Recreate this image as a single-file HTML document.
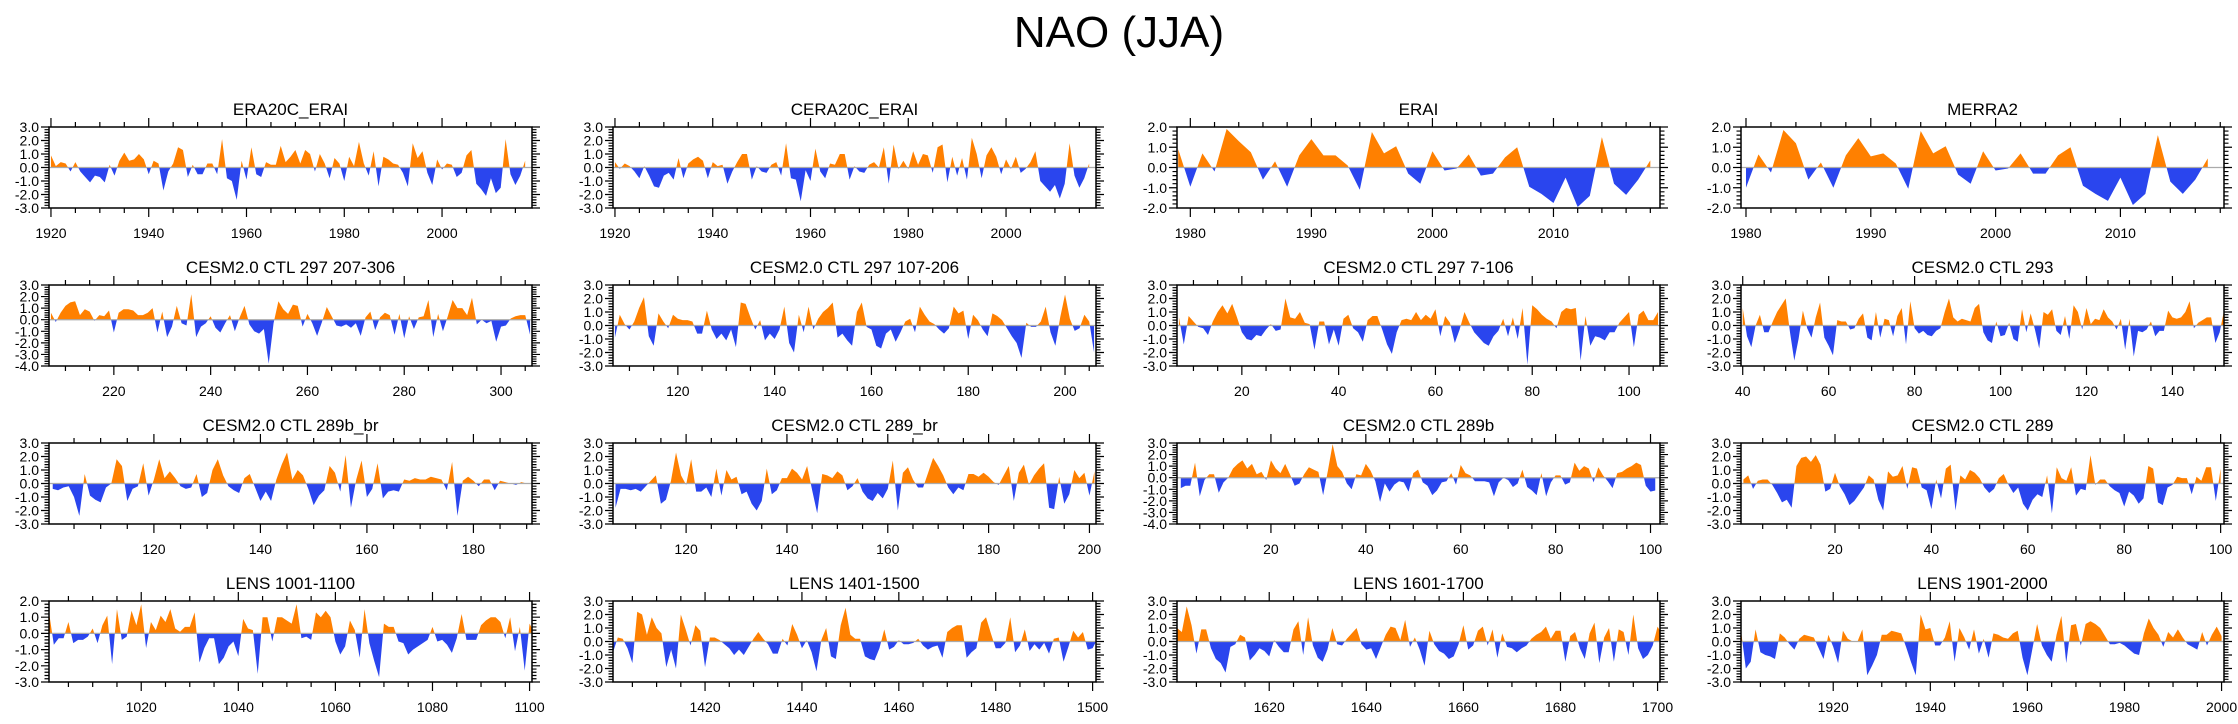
<!DOCTYPE html>
<html><head><meta charset="utf-8"><style>
body{margin:0;background:#fff;}
svg text{font-family:"Liberation Sans",sans-serif;fill:#000;}
</style></head><body>
<svg id="chart" width="2238" height="719" viewBox="0 0 2238 719" xmlns="http://www.w3.org/2000/svg">
<text x="1119" y="47" font-size="44" text-anchor="middle">NAO (JJA)</text>
</svg>
<script>
const titles = ["ERA20C_ERAI","CERA20C_ERAI","ERAI","MERRA2",
"CESM2.0 CTL 297 207-306","CESM2.0 CTL 297 107-206","CESM2.0 CTL 297 7-106","CESM2.0 CTL 293",
"CESM2.0 CTL 289b_br","CESM2.0 CTL 289_br","CESM2.0 CTL 289b","CESM2.0 CTL 289",
"LENS 1001-1100","LENS 1401-1500","LENS 1601-1700","LENS 1901-2000"];
const startYears = [1920,1920,1979,1980, 207,107,7,40, 101,106,1,1, 1001,1401,1601,1901];
const xDomains = [[1919.6,2018.4],[1919.6,2018.4],[1978.9,2018.8],[1979.6,2018.3],
[206.6,306.4],[106.6,206.4],[6.6,106.4],[39.6,152],
[100.3,191],[105.5,201.3],[0.2,102],[0.5,100.7],
[1001,1100.5],[1401,1500.7],[1601,1700.5],[1901,2000.5]];
const yDomains = [[-3,3],[-3,3],[-2,2],[-2,2],[-4,3],[-3,3],[-3,3],[-3,3],[-3,3],[-3,3],[-4,3],[-3,3],[-3,2],[-3,3],[-3,3],[-3,3]];
const xMajor = [20,20,10,10,20,20,20,20,20,20,20,20,20,20,20,20];
const xMinor = [5,5,2,2,5,5,5,5,5,5,5,5,5,5,5,5];

const sEra20c = [0.9,0.1,0.4,0.3,-0.3,0.4,-0.3,-0.7,-1.1,-0.6,-0.7,-1.1,0.2,-0.6,0.5,1.1,0.5,0.6,1.0,0.6,-0.5,0.5,0.3,-1.7,-0.3,0.3,1.5,1.3,-0.7,0.2,-0.5,-0.5,0.3,0.3,-0.5,2.1,-0.8,-1.0,-2.4,0.5,-0.9,1.5,-0.5,-0.7,0.4,0.2,0.2,1.6,0.4,0.8,1.3,0.3,1.3,1.0,-0.3,1.0,0.3,-0.8,0.7,0.3,-1.0,0.8,0.1,1.9,0.3,-0.6,1.2,-1.4,0.8,0.6,0.3,0.2,-0.4,-1.4,1.8,0.7,1.2,-0.4,-1.3,0.6,-0.15,0.3,0.2,-0.7,-0.4,0.9,1.3,-1.2,-1.6,-2.1,-0.8,-1.9,-1.5,2.1,-0.5,-1.3,-0.6,0.5];
const sCera20c = [0.4,-0.1,0.3,0.1,-0.3,-0.8,0.1,-0.6,-1.4,-1.5,-0.6,-0.4,-0.9,0.7,-0.8,0.3,0.6,0.8,0.5,-0.8,0.4,0.1,0.2,-1.2,-0.3,0.4,1.0,1.0,-0.9,0.1,-0.3,-0.4,0.2,0.4,-0.6,1.8,-0.8,-0.9,-2.5,-0.2,-1.0,1.4,-0.3,-0.8,0.3,0.2,1.0,1.0,-0.9,0.1,-0.3,-0.4,0.2,0.4,0.0,1.5,-1.2,1.7,-0.1,0.5,-0.1,1.2,0.2,1.0,0.9,-0.4,1.5,1.7,-1.1,0.8,-0.6,0.7,-0.9,2.2,1.0,-0.8,0.9,1.5,0.8,-0.5,0.6,-0.1,0.8,-0.4,-0.1,0.4,1.2,-1.0,-1.4,-1.8,-1.3,-2.3,-1.2,1.8,-0.6,-1.5,-0.8,0.3];
const sErai = [0.9,-0.95,0.7,-0.2,1.9,1.3,0.75,-0.6,0.3,-0.95,0.6,1.4,0.6,0.6,0.1,-1.1,1.75,0.7,1.05,-0.3,-0.8,0.8,-0.15,-0.05,0.65,-0.4,-0.3,0.5,1.0,-0.95,-1.3,-1.75,-0.5,-1.95,-1.4,1.5,-0.8,-1.35,-0.6,0.35];
const sMerra2 = [-1.0,0.65,-0.25,1.85,1.2,-0.6,0.25,-1.0,0.6,1.45,0.55,0.7,0.2,-1.05,1.8,0.7,1.05,-0.35,-0.8,0.8,-0.15,-0.05,0.7,-0.3,-0.3,0.6,1.0,-0.9,-1.3,-1.65,-0.5,-1.85,-1.3,1.6,-0.7,-1.3,-0.6,0.45];
const sCtl297a = [0.6,-0.2,0.6,1.2,1.5,1.6,0.4,0.9,0.7,-0.1,0.4,0.3,0.8,-1.1,0.6,0.9,0.9,0.8,0.4,0.4,0.6,1.0,-1.1,0.7,-1.5,-0.6,1.2,-0.3,-0.5,2.2,-1.5,-0.6,-0.3,0.3,-0.7,-1.1,-0.3,0.4,-1.0,0.2,1.2,-0.4,-1.0,-1.2,-0.8,-3.8,-0.3,1.6,0.9,0.5,1.3,1.2,-0.6,0.5,-0.3,-1.4,-0.2,1.1,0.3,-0.5,-0.6,-0.4,-0.7,-0.3,-1.4,0.2,0.7,-0.9,0.2,0.6,0.4,-1.3,0.5,-1.6,0.3,-0.8,0.2,0.3,1.7,-1.5,0.5,-1.0,0.3,1.7,1.0,1.0,0.4,1.9,-0.4,0.0,-0.3,-0.1,-1.9,-0.6,-0.5,0.1,0.3,0.4,0.4,-1.3];
const sCtl297b = [-0.9,0.8,0.1,-0.3,0.3,1.3,2.1,-0.8,-1.5,0.9,0.3,-0.2,0.8,0.5,0.4,0.4,0.3,-0.6,-0.6,1.1,-0.3,-1.0,-0.6,-1.1,-0.3,-1.6,1.7,1.6,0.6,-0.3,0.4,-1.1,-0.6,-1.0,-0.3,1.4,-1.3,-2.0,0.8,-0.5,1.4,-0.3,0.5,1.0,1.3,1.7,-0.9,-0.6,-1.1,-1.5,1.0,1.7,-0.1,-0.3,-1.5,-1.7,-0.6,-0.3,-1.2,-0.5,0.3,0.5,-0.5,1.4,0.8,0.3,0.1,-0.3,-0.6,-0.2,1.4,0.9,1.1,-1.0,0.8,0.4,-0.3,-0.8,0.9,0.7,0.4,-0.2,-0.8,-1.3,-2.4,0.2,-0.1,-0.1,0.3,1.4,-0.5,-1.5,0.6,2.3,0.5,-0.4,-0.2,0.8,0.3,-2.0];
const sCtl297c = [0.6,-1.4,0.7,0.3,-0.1,-0.2,-0.7,0.3,1.0,1.5,0.9,1.6,0.6,-0.5,-1.0,-1.1,-0.7,-0.8,-0.3,0.1,-0.4,-0.3,2.0,0.6,0.5,1.0,0.2,0.1,-1.8,0.3,0.3,-1.4,-0.3,-1.5,0.5,0.8,-0.2,-0.5,-1.2,0.4,0.7,0.7,-0.3,-1.4,-2.1,-0.5,0.4,0.5,0.4,1.0,0.4,0.8,0.5,1.2,-0.8,0.7,0.2,-1.3,-0.3,1.0,0.2,-0.5,-0.9,-1.3,-1.5,-0.8,-0.4,0.5,-0.8,0.6,-1.0,1.3,-2.9,1.5,1.2,0.8,0.5,0.3,-0.2,1.0,1.3,1.2,1.3,-2.6,0.7,-1.5,-0.8,-0.9,-1.1,-0.5,-0.5,0.2,0.6,1.0,-1.6,0.8,1.1,0.4,0.4,1.0];
const sCtl293 = [1.3,-0.8,-1.6,0.0,0.8,-0.5,-0.5,0.3,1.0,1.5,2.0,-0.5,-2.6,-1.0,1.1,-0.2,-0.9,0.6,1.7,-0.9,-1.5,-2.2,0.4,0.3,0.3,-0.3,-0.2,0.5,0.9,-0.9,-1.1,1.0,-0.9,0.5,0.4,-0.8,0.7,1.3,-1.4,1.8,-0.2,-0.6,-0.4,-0.7,-0.8,-0.4,-0.2,1.0,2.0,0.6,0.3,0.5,0.4,0.3,1.3,1.6,-0.5,-1.1,-1.3,0.3,-0.8,-0.7,0.2,-1.0,-1.2,1.2,-0.5,0.9,-0.3,-1.7,1.0,0.8,1.2,-0.4,-0.7,0.7,-1.0,1.5,1.0,-0.3,1.3,0.1,0.5,0.4,1.2,0.6,0.3,-0.3,0.5,-1.8,0.5,-2.3,-0.4,-0.5,-0.3,0.3,-0.8,-0.4,-0.4,1.1,0.6,0.5,0.6,1.0,1.8,-0.2,0.2,0.4,0.6,0.6,-1.3,-0.5,1.1];
const sCtl289bbr = [-0.4,-0.5,-0.3,-0.2,-1.0,-2.4,0.7,-0.9,-1.2,-1.4,-0.3,0.0,1.8,1.3,-1.3,-0.4,-0.2,1.5,-0.9,0.3,1.8,0.4,0.9,0.4,-0.2,-0.4,-0.3,0.7,-1.0,-0.7,1.0,1.8,0.6,-0.2,-0.5,-0.7,0.4,0.7,-0.3,-1.3,-0.6,-1.3,0.3,1.4,2.3,0.3,1.0,0.6,-0.4,-1.6,-0.9,-0.5,1.3,0.8,-0.6,2.1,-1.8,0.3,1.7,-1.0,-0.4,1.5,-1.1,-0.6,-0.5,-0.6,0.3,0.2,0.4,0.3,0.3,0.5,0.4,0.3,-0.5,1.6,-2.4,0.2,0.5,0.2,-0.2,0.3,0.3,-0.5,0.2,0.1,0.0,-0.1,0.1,0.0];
const sCtl289br = [-1.8,-0.4,-0.4,-0.5,-0.4,-0.6,-0.2,0.2,0.6,-1.5,-1.2,0.2,2.3,0.6,-0.1,1.8,-0.6,-0.6,-0.3,-1.0,1.1,-0.9,1.0,0.3,0.5,-0.8,-0.6,-1.5,-2.0,-1.3,1.1,-0.8,-0.5,0.4,0.4,1.1,0.8,0.3,1.3,-0.5,-2.2,0.7,0.6,0.4,0.9,0.6,-0.5,-0.2,0.4,-0.6,-1.1,-1.3,-0.7,-1.1,-0.4,1.7,-2.0,0.8,1.2,0.3,-0.3,-0.3,0.8,1.9,1.3,0.6,-0.3,-0.8,-0.3,-0.5,0.7,0.7,0.5,0.8,0.5,0.1,-0.1,0.6,1.3,-1.3,0.8,1.4,-0.1,0.6,1.1,1.5,-1.8,-1.9,0.5,-1.5,-0.8,1.0,0.4,0.8,-0.9,0.9];
const sCtl289b = [-0.9,-0.7,-0.7,1.3,-1.6,-0.2,0.3,0.3,-1.3,-0.4,0.0,0.8,1.2,1.5,0.8,1.2,0.3,0.5,-0.2,1.5,0.8,0.4,1.2,0.3,-0.7,-0.5,0.3,0.9,0.7,0.5,-1.5,0.6,2.9,1.0,0.5,-0.5,-1.0,0.3,0.2,1.2,0.6,-0.3,-2.1,-0.5,-1.2,-0.6,-0.3,-0.4,-1.2,0.4,0.7,-0.4,-0.7,-1.5,-1.1,-0.4,-0.3,0.4,-0.6,1.1,0.4,0.2,-0.3,-0.3,-0.3,-0.4,-1.6,-0.4,0.0,-0.2,-0.8,-0.5,0.7,-0.8,-1.1,-1.5,0.4,-1.6,-0.4,0.2,0.2,-0.6,-0.4,1.3,0.6,1.0,0.8,-0.4,0.9,0.2,-0.3,-0.9,0.4,0.5,0.8,1.0,1.3,1.1,-0.7,-1.2,-1.1];
const sCtl289 = [0.3,0.6,-0.4,0.2,0.3,0.3,-0.1,-0.7,-1.4,-1.2,-1.8,1.3,1.9,2.0,1.6,2.1,1.4,-0.6,-0.4,0.8,-0.2,-0.8,-1.6,-1.3,-0.8,-0.3,0.6,0.3,-1.2,-2.0,0.9,0.5,0.6,1.3,-0.4,1.2,1.1,-0.3,-0.5,-1.9,0.3,-1.1,1.1,1.4,-2.0,0.6,0.3,1.0,0.8,0.4,-0.3,-0.7,-0.4,0.4,0.7,-0.1,-0.7,-0.3,-1.5,-2.0,-1.2,-0.8,-1.0,0.6,-2.2,1.2,0.4,0.2,1.2,-0.9,-0.4,-0.5,2.1,-0.1,0.3,0.3,-0.2,-0.5,-0.7,-1.7,-0.6,-0.9,-1.5,-1.1,1.3,1.1,-1.4,-1.6,-0.3,-0.1,0.5,0.4,0.4,-0.8,0.5,0.2,1.2,1.2,-1.3,1.1];
const sLens1001 = [1.3,-0.7,-0.3,-0.3,0.7,-0.6,-0.4,-0.4,-0.2,0.3,-0.6,0.5,1.1,-1.9,1.5,-0.4,-0.2,1.4,0.5,1.8,-0.9,0.7,0.2,1.1,0.7,1.5,0.3,0.1,0.4,0.4,1.3,-1.8,-0.9,-0.3,-0.3,-1.9,-1.5,-0.8,-0.5,-1.4,0.9,0.3,0.2,-2.5,1.0,1.0,-0.5,1.0,1.0,0.8,0.6,1.8,-0.3,-0.2,-0.4,1.3,1.0,1.4,1.0,-0.5,-1.3,-0.8,0.8,0.2,-1.5,1.5,-0.6,-1.7,-2.7,0.6,0.4,0.4,-0.5,-0.6,-1.3,-1.0,-0.8,-0.6,-0.4,0.4,-0.5,-0.4,-0.7,-1.2,-0.3,1.2,-0.4,-0.4,-0.4,0.5,0.8,1.0,1.0,0.7,-0.3,1.0,-1.1,0.4,-2.3,0.6,0.0];
const sLens1401 = [-0.8,0.3,0.2,-0.5,-1.6,2.2,2.0,0.5,1.8,1.0,0.6,-1.9,-0.6,-2.0,2.0,0.9,-0.3,1.2,0.8,-1.9,0.3,0.3,0.1,-0.2,-0.5,-1.0,-0.6,-1.0,-0.4,0.2,0.7,0.2,-0.2,-0.9,-0.9,0.2,-0.3,1.3,0.5,-0.5,0.1,-0.8,-2.2,0.1,1.0,-1.1,-1.3,1.2,2.5,0.5,0.2,0.2,-1.1,-1.3,-1.4,-0.5,0.9,-0.6,-0.4,0.1,-0.2,-0.2,-0.1,0.2,-0.3,-0.6,-0.4,-0.3,-1.2,0.7,1.0,1.2,1.2,-1.2,-0.8,-0.5,1.4,1.8,0.6,-0.5,-0.5,-0.1,1.8,-0.8,-0.3,0.9,-0.7,-0.2,-0.6,-0.1,-0.9,0.2,0.3,-1.5,-0.4,0.8,0.3,0.7,-0.6,-0.5,0.2];
const sLens1601 = [1.0,0.7,2.6,1.2,-0.9,0.9,0.9,-0.5,-1.3,-1.6,-2.3,-0.4,-0.2,0.5,0.3,-1.4,-1.0,-0.5,-0.7,-1.1,0.1,-0.4,-0.8,-0.8,0.9,1.5,-1.0,1.8,-0.3,-1.2,-1.5,-0.6,1.0,-0.2,-0.3,0.2,0.6,1.0,-0.2,-0.6,-0.5,-1.3,-0.4,0.5,1.1,1.0,0.1,1.6,-0.4,0.3,-0.6,-1.8,0.8,-0.2,-0.7,-0.9,-1.3,-1.1,-0.2,1.2,-0.6,-0.3,0.8,1.1,-0.3,0.9,-1.2,0.6,-0.4,-0.5,-0.8,-0.5,-0.3,0.2,0.5,0.7,1.1,0.2,0.8,0.8,-1.5,0.4,0.7,-0.5,-1.3,0.6,1.4,-1.6,0.3,1.0,-1.5,0.9,0.7,-1.0,2.0,-0.5,-1.3,-1.0,-0.3,1.1,0.5];
const sLens1901 = [0.8,-2.0,-1.5,0.9,-0.8,-1.0,-1.1,-1.3,0.6,0.3,-0.2,-0.6,0.2,0.5,0.4,0.3,-0.5,-1.3,0.5,-0.4,-1.6,0.8,0.2,0.0,0.0,0.9,-2.5,-1.8,-1.0,0.5,0.5,0.8,0.7,0.6,-0.4,-1.5,-2.5,2.0,0.9,1.0,-0.3,-0.3,0.3,1.5,-1.5,1.0,0.3,-0.6,0.9,-0.9,0.2,-1.2,0.6,0.5,0.3,0.2,0.6,0.8,-1.2,-2.5,-0.6,1.3,-0.3,-1.0,-1.5,0.5,1.9,-1.6,1.2,1.3,-0.3,1.3,1.5,1.3,1.0,0.4,-0.2,-0.2,-0.1,-0.3,-0.6,-0.9,-1.0,0.6,1.7,1.0,0.5,-0.4,0.7,0.3,0.9,0.3,-0.2,-0.4,-0.6,0.7,-0.3,0.5,1.1,0.4];

const seriesList = [sEra20c,sCera20c,sErai,sMerra2,sCtl297a,sCtl297b,sCtl297c,sCtl293,sCtl289bbr,sCtl289br,sCtl289b,sCtl289,sLens1001,sLens1401,sLens1601,sLens1901];

const NS = "http://www.w3.org/2000/svg";
const svg = document.getElementById('chart');
const colLeft = [49,613,1177,1741], rowTop = [127,285,443,601], PW = 483, PH = 81;
function mk(tag, attrs, parent){const e=document.createElementNS(NS,tag);for(const k in attrs)e.setAttribute(k,attrs[k]);(parent||svg).appendChild(e);return e;}
function fmt(v){return v.toFixed(1);}

seriesList.forEach((vals, p) => {
  const L = colLeft[p%4], T = rowTop[Math.floor(p/4)], R = L+PW, B = T+PH;
  const [x0,x1] = xDomains[p], [y0,y1] = yDomains[p];
  const xs = v => L + (v-x0)/(x1-x0)*PW;
  const ys = v => B - (v-y0)/(y1-y0)*PH;
  const g = mk('g', {});
  
  
  const t = mk('text', {x:(L+R)/2, y:T-12, 'font-size':17, 'text-anchor':'middle'}, g);
  
  
  t.textContent = titles[p];
  const zy = ys(0);
  const defs = mk('defs', {}, g);
  const cpA = mk('clipPath', {id:'ca'+p}, defs); mk('rect', {x:L, y:T, width:PW, height:zy-T}, cpA);
  const cpB = mk('clipPath', {id:'cb'+p}, defs); mk('rect', {x:L, y:zy, width:PW, height:B-zy}, cpB);
  let d = 'M' + xs(startYears[p]) + ',' + zy;
  vals.forEach((v,i) => { d += ' L' + xs(startYears[p]+i).toFixed(2) + ',' + ys(v).toFixed(2); });
  d += ' L' + xs(startYears[p]+vals.length-1) + ',' + zy + ' Z';
  const pos = mk('path', {d:d, fill:'#ff8000', 'clip-path':'url(#ca'+p+')'}, g);
  
  
  const neg = mk('path', {d:d, fill:'#2a45ee', 'clip-path':'url(#cb'+p+')'}, g);
  
  
  const zl = mk('line', {x1:L, x2:R, y1:zy, y2:zy, stroke:'#aaa', 'stroke-width':1.2}, g);
  
  
  const fr = mk('rect', {x:L, y:T, width:PW, height:PH, fill:'none', stroke:'#000', 'stroke-width':1.5}, g);
  
  
  let tk = '';
  for (let k = Math.round(y0*5); k <= Math.round(y1*5); k++) {
    const v = k/5, y = ys(v).toFixed(2), major = (k%5===0), len = major?8:4.5;
    tk += `M${L},${y} h${-len} M${R},${y} h${len} `;
    if (major) {
      const lb = mk('text', {x:L-10, y:+y+5, 'font-size':14, 'text-anchor':'end'}, g);
      
      
      lb.textContent = fmt(v);
    }
  }
  const mn = xMinor[p], mj = xMajor[p];
  for (let v = Math.ceil(x0/mn)*mn; v <= x1; v += mn) {
    const x = xs(v).toFixed(2), major = (v % mj === 0), len = major?9:5;
    tk += `M${x},${T} v${-len} M${x},${B} v${len} `;
    if (major) {
      const lb = mk('text', {x:x, y:B+30, 'font-size':14, 'text-anchor':'middle'}, g);
      
      
      lb.textContent = v;
    }
  }
  const tp = mk('path', {d:tk, stroke:'#000', 'stroke-width':1.2, fill:'none'}, g);
  
  
});
</script>
</body></html>
